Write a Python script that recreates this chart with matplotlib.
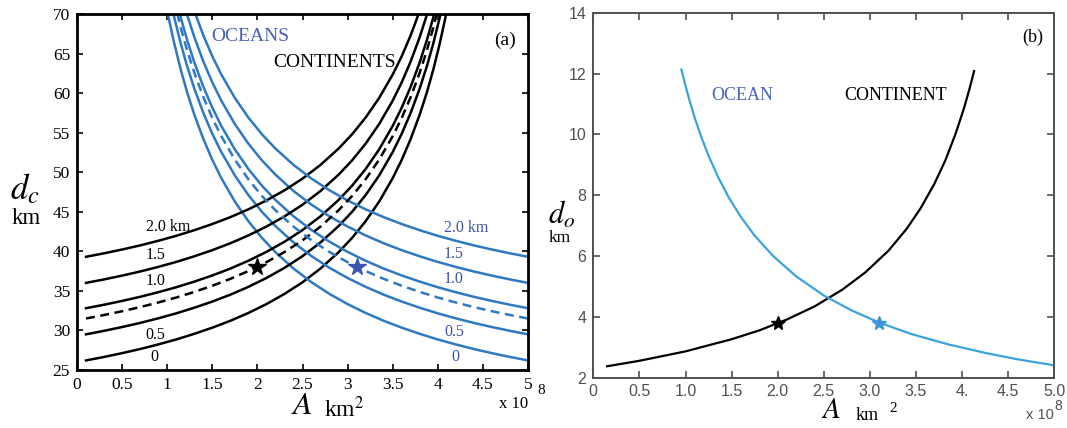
import matplotlib
matplotlib.use("Agg")
import matplotlib.pyplot as plt

plt.rcParams['mathtext.fontset'] = 'stix'
plt.rcParams['font.family'] = ['Liberation Serif', 'DejaVu Serif']

# ---------------- panel (a) data: crust thickness d_c vs area A (x 1e8 km^2) ----------------
cont_A = [0.1, 0.3, 0.5, 0.7, 0.9, 1.1, 1.3, 1.5, 1.7, 1.9, 2.1, 2.3, 2.5, 2.7, 2.9,
          3.05, 3.2, 3.35, 3.5, 3.6, 3.7, 3.8, 3.88, 3.95, 4.02, 4.08, 4.13]
cont_0 = [26.21, 26.65, 27.13, 27.65, 28.23, 28.86, 29.57, 30.35, 31.22, 32.21, 33.33,
          34.61, 36.09, 37.83, 39.89, 41.70, 43.81, 46.29, 49.25, 51.56, 54.22, 57.30,
          60.14, 62.97, 66.19, 69.31, 72.22]
cont_05 = [29.51, 29.95, 30.43, 30.95, 31.53, 32.16, 32.87, 33.65, 34.52, 35.51, 36.63,
           37.91, 39.39, 41.13, 43.19, 45.00, 47.11, 49.59, 52.55, 54.86, 57.52, 60.60,
           63.44, 66.27, 69.49, 72.61]
cont_dash = [31.51, 31.95, 32.43, 32.95, 33.53, 34.16, 34.87, 35.65, 36.52, 37.51, 38.63,
             39.91, 41.39, 43.13, 45.19, 47.00, 49.11, 51.59, 54.55, 56.86, 59.52, 62.60,
             65.44, 68.27, 71.49]
cont_10 = [32.81, 33.25, 33.73, 34.25, 34.83, 35.46, 36.17, 36.95, 37.82, 38.81, 39.93,
           41.21, 42.69, 44.43, 46.49, 48.30, 50.41, 52.89, 55.85, 58.16, 60.82, 63.90,
           66.74, 69.57, 72.79]
cont_15 = [36.01, 36.45, 36.93, 37.45, 38.03, 38.66, 39.37, 40.15, 41.02, 42.01, 43.13,
           44.41, 45.89, 47.63, 49.69, 51.50, 53.61, 56.09, 59.05, 61.36, 64.02, 67.10,
           69.94, 72.77]
cont_20 = [39.31, 39.75, 40.23, 40.75, 41.33, 41.96, 42.67, 43.45, 44.32, 45.31, 46.43,
           47.71, 49.19, 50.93, 52.99, 54.80, 56.91, 59.39, 62.35, 64.66, 67.32, 70.40]

# the ocean family reads as the mirror image: same thicknesses on a mirrored A grid
ocean_A = [5.0, 4.8, 4.6, 4.4, 4.2, 4.0, 3.8, 3.6, 3.4, 3.2, 3.0, 2.8, 2.6, 2.4, 2.2,
           2.05, 1.9, 1.75, 1.6, 1.5, 1.4, 1.3, 1.22, 1.15, 1.08, 1.02, 0.97]

cont_labels = ["0", "0.5", "1.0", "1.5", "2.0 km"]
cont_label_pos = [(0.86, 26.7), (0.87, 29.4), (0.87, 36.2), (0.87, 39.5), (1.01, 43.1)]
ocean_label_pos = [(4.2, 26.7), (4.18, 29.8), (4.17, 36.5), (4.17, 39.65), (4.32, 43.0)]
star_a = [(2.0, 38.0), (3.1, 38.0)]

# ---------------- panel (b) data: ocean depth d_o vs A ----------------
cb_A = [0.15, 0.5, 1.0, 1.5, 1.8, 2.1, 2.4, 2.7, 2.95, 3.2, 3.4, 3.55, 3.7, 3.82, 3.93,
        4.02, 4.08, 4.13]
cb_d = [2.37, 2.55, 2.86, 3.26, 3.55, 3.91, 4.34, 4.89, 5.46, 6.17, 6.90, 7.57, 8.38,
        9.16, 10.03, 10.86, 11.50, 12.09]
ob_A = [0.955, 0.99, 1.04, 1.1, 1.17, 1.25, 1.35, 1.47, 1.6, 1.75, 1.95, 2.2, 2.5, 2.8,
        3.1, 3.45, 3.85, 4.25, 4.6, 5.0]
ob_d = [12.14, 11.72, 11.16, 10.55, 9.93, 9.30, 8.62, 7.92, 7.29, 6.67, 6.00, 5.33, 4.70,
        4.21, 3.81, 3.43, 3.09, 2.81, 2.60, 2.40]
star_b = [(2.0, 3.8), (3.1, 3.8)]
xt_b = [0, 0.5, 1.0, 1.5, 2.0, 2.5, 3.0, 3.5, 4.0, 4.5, 5.0]
xt_b_labels = ["0", "0.5", "1.0", "1.5", "2.0", "2.5", "3.0", "3.5", "4.", "4.5", "5.0"]

BLUE_A = '#2f79c3'
BLUE_TXT = '#3f51a6'
BLUE_B = '#3aa3de'
GRAY = '#505050'
W, H = 1067, 428


def px(x, y):
    return x / W, 1 - y / H


fig = plt.figure(figsize=(W / 100, H / 100), dpi=100)
ax1 = fig.add_axes([77 / W, 1 - 370 / H, 451 / W, 356 / H])
ax2 = fig.add_axes([593.3 / W, 1 - 377.5 / H, 461 / W, 364.5 / H])

# ================= (a) =================
lw = 1.8
dash = (0, (3.6, 2.2))
for d in [cont_0, cont_05, cont_10, cont_15, cont_20]:
    ax1.plot(cont_A[:len(d)], d, color='black', lw=lw)
    ax1.plot(ocean_A[:len(d)], d, color=BLUE_A, lw=lw)
ax1.plot(cont_A[:len(cont_dash)], cont_dash, color='black', lw=lw, linestyle=dash)
ax1.plot(ocean_A[:len(cont_dash)], cont_dash, color=BLUE_A, lw=lw, linestyle=dash)

ax1.plot(*star_a[0], marker='*', color='black', ms=13, mec='black')
ax1.plot(*star_a[1], marker='*', color='#3a55b0', ms=13, mec='#3a55b0')

for lab, (x, y) in zip(cont_labels, cont_label_pos):
    ax1.text(x, y, lab, fontsize=11.5, ha='center', va='center')
for lab, (x, y) in zip(cont_labels, ocean_label_pos):
    ax1.text(x, y, lab, fontsize=11.5, ha='center', va='center', color=BLUE_TXT)

ax1.text(1.92, 67.1, "OCEANS", fontsize=14, color='#4a5fb3', ha='center', va='center')
ax1.text(2.86, 63.9, "CONTINENTS", fontsize=14, ha='center', va='center')
ax1.text(4.75, 66.7, "(a)", fontsize=14, ha='center', va='center')

ax1.set_xlim(0, 5)
ax1.set_ylim(25, 70)
ax1.set_xticks([0, 0.5, 1, 1.5, 2, 2.5, 3, 3.5, 4, 4.5, 5])
ax1.set_xticklabels(["0", "0.5", "1", "1.5", "2", "2.5", "3", "3.5", "4", "4.5", "5"])
ax1.set_yticks(range(25, 71, 5))
ax1.tick_params(direction='in', top=True, right=True, length=4, width=1.2,
                labelsize=12.5, pad=5)
for s in ax1.spines.values():
    s.set_linewidth(2.0)

fig.text(*px(25, 190), r'$d_c$', fontsize=25, ha='center', va='center')
fig.text(*px(26, 219), 'km', fontsize=16.5, ha='center', va='center')
fig.text(*px(302, 407), r'$A$', fontsize=23, ha='center', va='center')
fig.text(*px(344, 409), r'km$^2$', fontsize=17, ha='center', va='center')
fig.text(*px(514, 404), 'x 10', fontsize=12, ha='center', va='center')
fig.text(*px(541, 390), '8', fontsize=11, ha='center', va='center')

# ================= (b) =================
ax2.plot(cb_A, cb_d, color='black', lw=1.6)
ax2.plot(ob_A, ob_d, color=BLUE_B, lw=1.6)
ax2.plot(*star_b[0], marker='*', color='black', ms=10)
ax2.plot(*star_b[1], marker='*', color='#3d93d3', ms=10)

ax2.text(1.61, 11.29, "OCEAN", fontsize=13, color='#4a64b3', ha='center', va='center')
ax2.text(3.28, 11.29, "CONTINENT", fontsize=13, ha='center', va='center')
ax2.text(4.77, 13.2, "(b)", fontsize=13, ha='center', va='center')

ax2.set_xlim(0, 5)
ax2.set_ylim(2, 14)
ax2.set_xticks(xt_b)
ax2.set_xticklabels(xt_b_labels)
ax2.set_yticks(range(2, 15, 2))
ax2.tick_params(direction='in', top=True, right=True, length=5, width=1.2,
                color=GRAY, labelcolor=GRAY, labelsize=11.5, pad=5)
for lab in ax2.get_xticklabels() + ax2.get_yticklabels():
    lab.set_fontfamily('Liberation Sans')
for s in ax2.spines.values():
    s.set_linewidth(1.4)
    s.set_color(GRAY)

fig.text(*px(562, 215), r'$d_o$', fontsize=22, ha='center', va='center')
fig.text(*px(560, 238), 'km', fontsize=12.5, ha='center', va='center')
fig.text(*px(831, 411), r'$A$', fontsize=21, ha='center', va='center')
fig.text(*px(867, 416), 'km', fontsize=13, ha='center', va='center')
fig.text(*px(893, 409), '2', fontsize=11, ha='center', va='center')
fig.text(*px(1040, 415), 'x 10', fontsize=10.5, ha='center', va='center',
         color=GRAY, family='Liberation Sans')
fig.text(*px(1058, 406), '8', fontsize=10, ha='center', va='center',
         color=GRAY, family='Liberation Sans')

fig.savefig("out.png", dpi=100)
